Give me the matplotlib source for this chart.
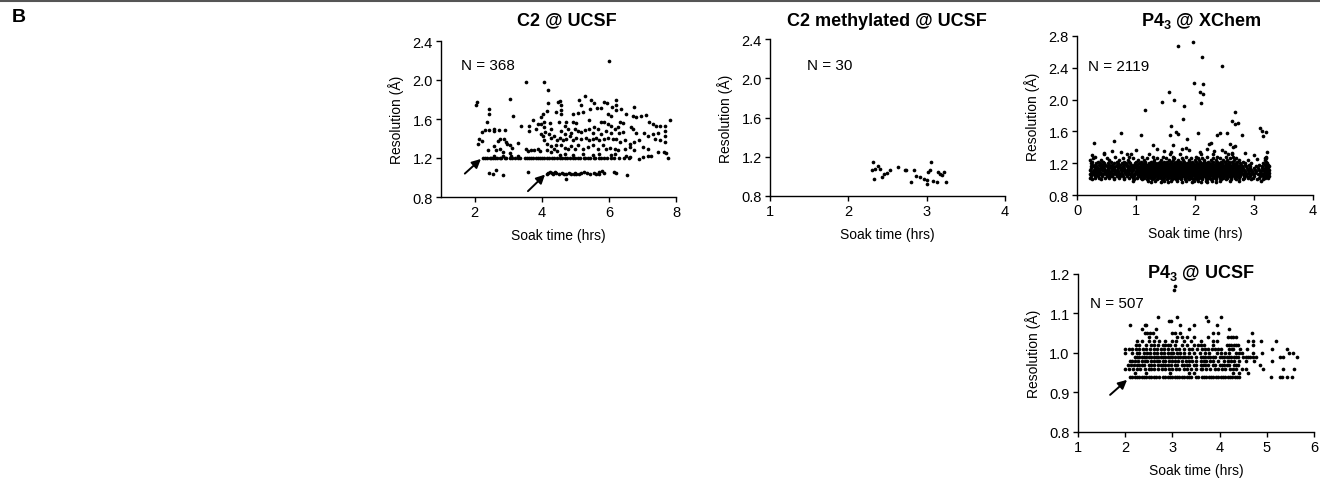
import matplotlib
matplotlib.use("Agg")
import matplotlib.pyplot as plt
from matplotlib.lines import Line2D

plt.rcParams['font.family'] = ['Liberation Sans', 'DejaVu Sans']
plt.rcParams['mathtext.fontset'] = 'custom'
plt.rcParams['mathtext.rm'] = 'Liberation Sans'
plt.rcParams['mathtext.bf'] = 'Liberation Sans:bold'

# ---- C2 @ UCSF (soak time hrs, resolution A) ----
c2_row_120 = [2.25, 2.32, 2.38, 2.45, 2.5, 2.56, 2.62, 2.68, 2.75, 2.8, 2.9, 2.95, 3.05, 3.1, 3.2,
              3.28, 3.35, 3.5, 3.55, 3.62, 3.68, 3.75, 3.82, 3.88, 3.95, 4.0, 4.08, 4.15, 4.22, 4.3,
              4.38, 4.45, 4.55, 4.6, 4.68, 4.75, 4.85, 4.92, 5.0, 5.08, 5.15, 5.25, 5.3, 5.38, 5.45,
              5.55, 5.6, 5.7, 5.78, 5.85, 5.95, 6.05, 6.15, 6.3, 6.45, 6.6]
c2_pts = [(3.53, 1.98), (4.08, 1.98), (4.19, 1.90), (3.05, 1.81), (2.07, 1.77), (2.04, 1.74),
          (4.19, 1.76), (4.49, 1.77), (2.44, 1.70), (2.42, 1.65), (3.15, 1.63), (4.03, 1.65),
          (3.98, 1.62), (4.17, 1.68), (4.42, 1.67), (2.37, 1.57), (3.73, 1.59), (3.88, 1.55),
          (3.98, 1.55), (4.08, 1.57), (4.24, 1.56), (4.52, 1.57), (3.38, 1.53), (3.63, 1.53),
          (3.63, 1.48), (3.83, 1.50), (4.08, 1.52), (4.10, 1.47), (4.27, 1.50), (2.31, 1.49),
          (2.21, 1.47), (2.44, 1.49), (2.57, 1.48), (2.59, 1.50), (2.74, 1.49), (2.91, 1.49),
          (3.98, 1.45), (4.03, 1.43), (4.22, 1.45), (4.27, 1.41), (4.37, 1.43), (4.47, 1.38),
          (4.42, 1.33), (2.77, 1.40), (2.71, 1.37), (2.14, 1.39), (2.21, 1.37), (2.09, 1.34),
          (2.88, 1.39), (2.93, 1.36), (2.98, 1.34), (3.06, 1.33), (3.10, 1.30), (3.28, 1.35),
          (4.08, 1.38), (4.15, 1.34), (4.27, 1.32), (2.39, 1.28), (2.59, 1.32), (2.64, 1.28),
          (2.77, 1.29), (2.84, 1.26), (3.06, 1.25), (3.53, 1.29), (3.58, 1.27), (3.68, 1.28),
          (3.78, 1.28), (3.88, 1.29), (3.96, 1.27), (4.17, 1.28), (4.27, 1.26), (4.37, 1.29),
          (4.45, 1.27), (2.57, 1.22), (2.84, 1.22), (3.08, 1.22), (3.30, 1.22), (2.44, 1.05),
          (2.54, 1.04), (2.64, 1.08), (2.84, 1.03), (3.58, 1.06), (4.73, 0.98),
          (6.00, 2.20), (5.30, 1.84), (5.10, 1.80), (5.47, 1.79), (5.55, 1.76), (5.87, 1.77),
          (5.95, 1.76), (6.22, 1.79), (6.20, 1.74), (5.65, 1.71), (5.77, 1.71), (6.10, 1.72),
          (6.22, 1.69), (6.35, 1.70), (6.76, 1.72), (4.53, 1.78), (4.58, 1.74), (4.58, 1.69),
          (4.58, 1.65), (5.18, 1.74), (5.23, 1.67), (5.08, 1.66), (4.93, 1.65), (5.45, 1.70),
          (5.97, 1.65), (6.07, 1.63), (6.52, 1.65), (6.72, 1.63), (6.81, 1.62), (6.96, 1.63),
          (7.11, 1.64), (5.40, 1.59), (4.93, 1.57), (5.03, 1.56), (4.73, 1.57), (4.68, 1.53),
          (5.77, 1.57), (5.87, 1.57), (5.97, 1.55), (6.07, 1.53), (6.32, 1.57), (6.42, 1.56),
          (6.27, 1.52), (7.21, 1.57), (7.31, 1.55), (7.41, 1.53), (7.51, 1.53), (7.66, 1.53),
          (7.81, 1.59), (4.58, 1.48), (4.68, 1.45), (4.78, 1.50), (4.88, 1.46), (4.98, 1.50),
          (5.08, 1.48), (5.18, 1.47), (5.28, 1.49), (5.42, 1.50), (5.52, 1.46), (5.57, 1.52),
          (5.67, 1.50), (5.77, 1.45), (5.92, 1.48), (6.07, 1.46), (6.17, 1.50), (6.30, 1.46),
          (6.42, 1.47), (6.66, 1.52), (6.71, 1.50), (6.81, 1.46), (7.06, 1.46), (7.16, 1.43),
          (7.31, 1.45), (7.46, 1.46), (7.66, 1.48), (7.68, 1.43), (4.53, 1.41), (4.63, 1.38),
          (4.73, 1.40), (4.83, 1.43), (4.93, 1.38), (5.03, 1.41), (5.18, 1.40), (5.33, 1.41),
          (5.42, 1.38), (5.52, 1.39), (5.62, 1.41), (5.72, 1.38), (5.87, 1.40), (5.97, 1.41),
          (6.12, 1.39), (6.22, 1.40), (6.32, 1.36), (6.47, 1.38), (6.62, 1.34), (6.76, 1.36),
          (6.91, 1.38), (7.36, 1.40), (7.51, 1.38), (7.66, 1.36), (4.58, 1.33), (4.68, 1.30),
          (4.78, 1.29), (4.88, 1.32), (4.98, 1.29), (5.08, 1.33), (5.23, 1.29), (5.38, 1.31),
          (5.52, 1.33), (5.67, 1.29), (5.82, 1.33), (5.92, 1.29), (6.02, 1.30), (6.17, 1.29),
          (6.27, 1.28), (6.47, 1.29), (6.62, 1.31), (6.76, 1.28), (7.01, 1.31), (7.16, 1.29),
          (7.46, 1.26), (4.53, 1.23), (4.68, 1.24), (4.93, 1.23), (5.23, 1.24), (5.52, 1.23),
          (5.72, 1.24), (6.07, 1.23), (6.17, 1.24), (6.52, 1.22), (6.62, 1.21), (6.91, 1.19),
          (7.01, 1.21), (7.16, 1.22), (7.26, 1.22), (7.71, 1.25), (7.76, 1.20), (7.64, 1.26),
          (4.15, 1.04), (4.20, 1.05), (4.25, 1.06), (4.30, 1.05), (4.35, 1.04), (4.42, 1.05),
          (4.50, 1.04), (4.60, 1.05), (4.65, 1.04), (4.72, 1.04), (4.80, 1.05), (4.88, 1.04),
          (4.95, 1.04), (5.02, 1.04), (5.10, 1.04), (5.18, 1.05), (5.25, 1.06), (5.35, 1.05),
          (5.45, 1.04), (5.55, 1.05), (5.62, 1.04), (5.72, 1.06), (5.80, 1.07), (5.85, 1.05),
          (6.15, 1.06), (6.20, 1.05), (6.55, 1.03), (5.00, 1.05), (4.40, 1.06), (5.70, 1.04)]

# ---- C2 methylated @ UCSF ----
c2m_soak = [2.31, 2.30, 2.34, 2.38, 2.40, 2.33, 2.43, 2.45, 2.49, 2.53, 2.63, 2.72, 2.74, 2.80, 2.84,
            2.87, 2.91, 2.96, 3.00, 3.01, 3.02, 3.04, 3.06, 3.08, 3.13, 3.14, 3.17, 3.19, 3.22, 3.25]
c2m_res = [1.15, 1.07, 1.08, 1.11, 1.08, 0.97, 0.99, 1.02, 1.03, 1.07, 1.10, 1.07, 1.06, 0.94, 1.06,
           1.00, 0.99, 0.97, 0.96, 0.92, 1.04, 1.07, 1.15, 0.95, 0.94, 1.04, 1.02, 1.01, 1.04, 0.94]

# ---- P4_3 @ XChem: dense band listed by resolution level, then sparse points ----
xchem_rows = {
    0.96: [1.25, 1.42, 1.55, 1.78, 1.95, 2.1, 2.2, 2.35],
    0.98: [0.95, 1.2, 1.32, 1.48, 1.6, 1.7, 1.85, 1.98, 2.05, 2.18, 2.28, 2.42, 2.6, 2.75, 3.12],
    1.00: [0.25, 0.4, 0.62, 0.8, 0.97, 1.1, 1.18, 1.27, 1.36, 1.44, 1.52, 1.61, 1.68, 1.76, 1.83,
           1.9, 1.97, 2.04, 2.12, 2.2, 2.27, 2.35, 2.44, 2.52, 2.61, 2.7, 2.82, 2.95, 3.05, 3.15],
    1.02: [0.22, 0.3, 0.38, 0.47, 0.55, 0.63, 0.72, 0.8, 0.88, 0.95, 1.02, 1.08, 1.14, 1.2, 1.26,
           1.31, 1.37, 1.43, 1.48, 1.54, 1.6, 1.65, 1.71, 1.77, 1.83, 1.88, 1.94, 2.0, 2.06, 2.12,
           2.18, 2.24, 2.3, 2.36, 2.42, 2.48, 2.55, 2.61, 2.68, 2.75, 2.83, 2.9, 2.98, 3.08, 3.18, 3.24],
    1.04: [0.24, 0.31, 0.36, 0.43, 0.5, 0.56, 0.6, 0.67, 0.73, 0.78, 0.84, 0.91, 0.97, 1.03, 1.07,
           1.12, 1.17, 1.22, 1.27, 1.32, 1.36, 1.41, 1.45, 1.5, 1.55, 1.59, 1.64, 1.68, 1.73, 1.78,
           1.82, 1.86, 1.91, 1.95, 2.0, 2.04, 2.09, 2.13, 2.17, 2.22, 2.26, 2.31, 2.35, 2.4, 2.44,
           2.49, 2.53, 2.58, 2.63, 2.67, 2.72, 2.77, 2.83, 2.88, 2.94, 3.0, 3.1, 3.16, 3.21, 3.25],
    1.06: [0.22, 0.27, 0.33, 0.39, 0.44, 0.49, 0.55, 0.61, 0.66, 0.71, 0.77, 0.83, 0.88, 0.93, 0.99,
           1.04, 1.09, 1.13, 1.18, 1.23, 1.28, 1.33, 1.37, 1.42, 1.46, 1.51, 1.56, 1.61, 1.65, 1.7,
           1.75, 1.79, 1.84, 1.88, 1.93, 1.97, 2.02, 2.06, 2.11, 2.15, 2.2, 2.24, 2.29, 2.33, 2.38,
           2.42, 2.47, 2.51, 2.56, 2.61, 2.66, 2.71, 2.76, 2.81, 2.87, 2.93, 2.99, 3.07, 3.14, 3.19, 3.24],
    1.08: [0.25, 0.3, 0.35, 0.41, 0.47, 0.52, 0.58, 0.64, 0.69, 0.75, 0.81, 0.86, 0.92, 0.98, 1.03,
           1.08, 1.12, 1.16, 1.21, 1.26, 1.3, 1.35, 1.39, 1.44, 1.48, 1.53, 1.57, 1.62, 1.67, 1.71,
           1.76, 1.81, 1.85, 1.9, 1.94, 1.99, 2.03, 2.08, 2.12, 2.17, 2.21, 2.26, 2.3, 2.35, 2.39,
           2.44, 2.48, 2.53, 2.57, 2.62, 2.68, 2.73, 2.78, 2.84, 2.9, 2.96, 3.02, 3.11, 3.17, 3.22, 3.26],
    1.10: [0.23, 0.29, 0.34, 0.38, 0.45, 0.5, 0.54, 0.6, 0.65, 0.7, 0.76, 0.82, 0.87, 0.94, 1.0,
           1.05, 1.1, 1.14, 1.19, 1.24, 1.29, 1.34, 1.38, 1.43, 1.47, 1.52, 1.58, 1.63, 1.66, 1.72,
           1.77, 1.8, 1.86, 1.89, 1.95, 1.98, 2.03, 2.07, 2.12, 2.16, 2.21, 2.25, 2.3, 2.34, 2.38,
           2.43, 2.47, 2.52, 2.56, 2.6, 2.65, 2.7, 2.74, 2.79, 2.85, 2.91, 2.97, 3.04, 3.12, 3.18, 3.23],
    1.12: [0.22, 0.28, 0.32, 0.37, 0.42, 0.48, 0.53, 0.59, 0.63, 0.68, 0.74, 0.8, 0.85, 0.9, 0.95,
           1.01, 1.06, 1.11, 1.15, 1.2, 1.25, 1.3, 1.35, 1.4, 1.44, 1.49, 1.54, 1.59, 1.63, 1.68,
           1.73, 1.78, 1.83, 1.87, 1.92, 1.96, 2.01, 2.06, 2.1, 2.15, 2.19, 2.24, 2.28, 2.33, 2.37,
           2.42, 2.46, 2.51, 2.55, 2.6, 2.64, 2.69, 2.73, 2.78, 2.83, 2.89, 2.95, 3.01, 3.09, 3.15, 3.2, 3.25],
    1.14: [0.24, 0.3, 0.36, 0.41, 0.46, 0.52, 0.57, 0.63, 0.7, 0.75, 0.8, 0.86, 0.92, 0.97, 1.02,
           1.07, 1.12, 1.17, 1.22, 1.27, 1.31, 1.36, 1.41, 1.45, 1.5, 1.55, 1.6, 1.64, 1.69, 1.74,
           1.79, 1.84, 1.88, 1.93, 1.98, 2.02, 2.07, 2.11, 2.16, 2.2, 2.25, 2.29, 2.34, 2.39, 2.44,
           2.49, 2.54, 2.58, 2.63, 2.67, 2.72, 2.77, 2.82, 2.88, 2.94, 3.0, 3.06, 3.14, 3.19, 3.24],
    1.16: [0.23, 0.27, 0.33, 0.4, 0.44, 0.5, 0.56, 0.61, 0.66, 0.72, 0.78, 0.84, 0.89, 0.94, 1.0,
           1.04, 1.09, 1.14, 1.19, 1.23, 1.28, 1.33, 1.37, 1.42, 1.47, 1.52, 1.56, 1.61, 1.66, 1.7,
           1.75, 1.8, 1.85, 1.9, 1.94, 1.99, 2.04, 2.08, 2.13, 2.18, 2.22, 2.27, 2.31, 2.36, 2.4,
           2.45, 2.5, 2.55, 2.59, 2.64, 2.69, 2.74, 2.8, 2.86, 2.93, 3.03, 3.13, 3.2, 3.25],
    1.18: [0.25, 0.31, 0.37, 0.43, 0.48, 0.55, 0.6, 0.67, 0.73, 0.79, 0.85, 0.91, 0.96, 1.02, 1.08,
           1.13, 1.18, 1.24, 1.29, 1.34, 1.39, 1.43, 1.48, 1.53, 1.58, 1.62, 1.67, 1.72, 1.77, 1.82,
           1.86, 1.91, 1.96, 2.0, 2.05, 2.1, 2.14, 2.19, 2.24, 2.29, 2.33, 2.38, 2.43, 2.48, 2.53,
           2.57, 2.62, 2.67, 2.72, 2.78, 2.84, 2.92, 3.08, 3.18, 3.23],
    1.20: [0.24, 0.32, 0.39, 0.46, 0.53, 0.62, 0.7, 0.77, 0.83, 0.9, 0.98, 1.05, 1.11, 1.16, 1.22,
           1.27, 1.32, 1.38, 1.44, 1.5, 1.55, 1.6, 1.65, 1.71, 1.76, 1.81, 1.87, 1.92, 1.97, 2.03,
           2.08, 2.13, 2.18, 2.24, 2.29, 2.35, 2.41, 2.46, 2.52, 2.58, 2.64, 2.7, 2.77, 2.85, 2.95, 3.15, 3.22],
    1.22: [0.26, 0.35, 0.44, 0.58, 0.68, 0.8, 0.88, 1.0, 1.09, 1.15, 1.25, 1.31, 1.4, 1.47, 1.53,
           1.6, 1.68, 1.74, 1.82, 1.89, 1.95, 2.02, 2.09, 2.16, 2.22, 2.3, 2.37, 2.44, 2.5, 2.57,
           2.63, 2.72, 2.82, 3.2],
    1.24: [0.22, 0.4, 0.55, 0.72, 0.86, 1.04, 1.13, 1.3, 1.42, 1.56, 1.63, 1.72, 1.8, 1.9, 2.0,
           2.07, 2.15, 2.27, 2.35, 2.48, 2.55, 2.66, 2.75, 2.9, 3.18],
    1.26: [0.27, 0.5, 0.78, 0.95, 1.18, 1.35, 1.5, 1.65, 1.78, 1.93, 2.05, 2.12, 2.3, 2.42, 2.6, 2.7, 3.21],
    1.28: [0.3, 0.65, 0.88, 1.1, 1.28, 1.45, 1.62, 1.85, 2.02, 2.2, 2.38, 2.52, 2.64, 3.2],
    1.31: [0.45, 0.92, 1.22, 1.58, 1.74, 2.1, 2.3, 2.56, 2.62],
    1.34: [0.75, 1.6, 2.08, 2.5],
}
xchem_pts = [(0.29, 1.46), (0.62, 1.48), (0.75, 1.58), (1.08, 1.56), (1.16, 1.87), (1.29, 1.43),
             (1.44, 1.97), (1.57, 1.55), (1.60, 1.67), (1.56, 2.09), (1.64, 1.99), (1.68, 1.59),
             (1.71, 1.57), (1.71, 2.68), (1.80, 1.76), (1.81, 1.92), (1.62, 1.43), (1.78, 1.38),
             (1.84, 1.39), (1.86, 1.50), (1.96, 2.72), (1.98, 2.21), (2.05, 1.58), (2.08, 2.10),
             (2.10, 1.96), (2.12, 2.53), (2.14, 2.20), (2.14, 2.07), (2.23, 1.44), (2.27, 1.45),
             (2.37, 1.55), (2.42, 1.58), (2.46, 2.42), (2.54, 1.58), (2.59, 1.44), (2.65, 1.40),
             (2.68, 1.42), (2.68, 1.84), (2.63, 1.73), (2.68, 1.69), (2.73, 1.71), (2.79, 1.56),
             (3.10, 1.64), (3.13, 1.60), (3.20, 1.59), (3.16, 1.54), (3.22, 1.34), (3.19, 1.27),
             (0.26, 1.30), (0.45, 1.33), (0.60, 1.35), (0.85, 1.32), (1.00, 1.36), (1.35, 1.38),
             (1.48, 1.35), (1.90, 1.36), (2.20, 1.38), (2.32, 1.35), (2.45, 1.37), (2.62, 1.33),
             (2.85, 1.33), (3.00, 1.30), (3.05, 1.25)]

# ---- P4_3 @ UCSF: resolutions come in 0.01 A steps ----
p43u_rows = {
    0.94: [2.1, 2.15, 2.2, 2.25, 2.3, 2.35, 2.4, 2.45, 2.5, 2.55, 2.6, 2.65, 2.72, 2.8, 2.85, 2.9,
           2.95, 3.0, 3.05, 3.1, 3.15, 3.2, 3.25, 3.3, 3.35, 3.4, 3.5, 3.55, 3.62, 3.67, 3.72, 3.77,
           3.82, 3.87, 3.92, 3.97, 4.02, 4.07, 4.12, 4.17, 4.22, 4.27, 4.32, 4.37, 4.42, 5.08, 5.27,
           5.33, 5.42, 5.53],
    0.95: [2.2, 2.45, 2.95, 3.35, 3.45, 4.29, 4.42, 4.6],
    0.96: [2.0, 2.07, 2.17, 2.25, 2.32, 2.42, 2.5, 2.55, 2.62, 2.7, 2.77, 2.85, 2.92, 3.0, 3.07, 3.15,
           3.25, 3.3, 3.4, 3.5, 3.6, 3.62, 3.72, 3.8, 3.9, 3.97, 4.05, 4.12, 4.22, 4.29, 4.35, 4.47,
           4.55, 4.92, 5.35, 5.58],
    0.97: [2.05, 2.12, 2.18, 2.25, 2.3, 2.35, 2.4, 2.5, 2.55, 2.6, 2.7, 2.75, 2.8, 2.85, 2.9, 2.97,
           3.05, 3.1, 3.2, 3.25, 3.3, 3.35, 3.45, 3.5, 3.6, 3.65, 3.7, 3.75, 3.85, 3.9, 4.0, 4.05,
           4.1, 4.15, 4.2, 4.3, 4.35, 4.4, 4.85],
    0.98: [2.1, 2.15, 2.2, 2.28, 2.35, 2.42, 2.47, 2.55, 2.6, 2.67, 2.72, 2.8, 2.85, 2.92, 3.0, 3.05,
           3.12, 3.2, 3.28, 3.35, 3.42, 3.5, 3.6, 3.67, 3.72, 3.8, 3.87, 3.97, 4.1, 4.17, 4.25, 4.3,
           4.42, 4.55, 4.73, 5.1],
    0.99: [2.2, 2.25, 2.3, 2.35, 2.4, 2.45, 2.5, 2.55, 2.6, 2.65, 2.7, 2.75, 2.8, 2.85, 2.9, 2.95,
           3.0, 3.05, 3.12, 3.17, 3.22, 3.27, 3.32, 3.4, 3.5, 3.6, 3.65, 3.7, 3.75, 3.8, 3.85, 3.9,
           4.0, 4.05, 4.1, 4.15, 4.2, 4.25, 4.3, 4.35, 4.4, 4.5, 4.55, 4.6, 4.65, 4.7, 4.78, 5.28,
           5.34, 5.63],
    1.00: [2.0, 2.15, 2.25, 2.3, 2.4, 2.47, 2.52, 2.6, 2.67, 2.75, 2.82, 2.9, 2.97, 3.02, 3.1, 3.17,
           3.25, 3.35, 3.45, 3.59, 3.69, 3.78, 3.94, 4.02, 4.11, 4.19, 4.35, 4.42, 4.47, 4.71, 4.9,
           5.46, 5.55],
    1.01: [2.0, 2.08, 2.15, 2.22, 2.3, 2.37, 2.45, 2.52, 2.6, 2.68, 2.75, 2.82, 2.9, 3.0, 3.07, 3.15,
           3.25, 3.35, 3.42, 3.52, 3.62, 3.69, 3.76, 3.83, 3.9, 3.97, 4.04, 4.19, 4.26, 4.29, 4.43,
           4.57, 5.12, 5.42],
    1.02: [2.22, 2.3, 2.45, 2.55, 2.62, 2.7, 2.8, 2.85, 2.9, 2.95, 3.05, 3.2, 3.3, 3.45, 3.55, 3.6,
           3.67, 3.85, 4.15, 4.2, 4.25, 4.3, 4.35, 4.4, 4.7],
    1.03: [2.25, 2.35, 2.5, 2.62, 2.72, 2.85, 3.0, 3.08, 3.25, 3.4, 3.6, 3.87, 3.94, 4.61, 4.71, 4.88, 5.19],
    1.04: [2.5, 2.65, 3.1, 3.2, 3.3, 3.45, 3.75, 4.17, 4.24, 4.29, 4.35],
    1.05: [2.42, 2.47, 2.52, 2.58, 3.0, 3.05, 3.17, 3.87, 3.97, 4.68],
    1.06: [2.35, 2.65, 3.35, 4.19],
    1.07: [2.1, 2.41, 2.45, 3.16, 3.45, 3.95],
    1.08: [2.92, 2.97, 3.76],
    1.09: [2.69, 3.09, 3.71, 4.02],
    1.16: [3.04],
    1.17: [3.06],
}


def rows_to_xy(rows):
    xs, ys = [], []
    for res, soaks in rows.items():
        xs += soaks
        ys += [res] * len(soaks)
    return xs, ys


def style_axis(ax, xlim, xticks, ylim, yticks, yfmt):
    for side in ["top", "right"]:
        ax.spines[side].set_visible(False)
    ax.spines["left"].set_linewidth(1.0)
    ax.spines["bottom"].set_linewidth(1.0)
    ax.set_xlim(xlim)
    ax.set_ylim(ylim)
    ax.set_xticks(xticks)
    ax.set_yticks(yticks)
    ax.set_yticklabels([yfmt % t for t in yticks])
    ax.tick_params(direction="out", length=3.5, width=1.0, pad=2.5, labelsize=10.5)
    ax.set_xlabel("Soak time (hrs)", fontsize=10, labelpad=6)
    ax.set_ylabel("Resolution (Å)", fontsize=10, labelpad=6)


W, H = 1320, 481
fig = plt.figure(figsize=(13.2, 4.81), dpi=100)

def add_ax(left, top, right, bottom):
    return fig.add_axes([left / W, 1 - bottom / H, (right - left) / W, (bottom - top) / H])

dot = dict(s=7, color="black", linewidths=0, clip_on=False)
arrow = dict(arrowstyle="-|>", color="black", lw=1.4, mutation_scale=13, shrinkA=0, shrinkB=0)

# C2 @ UCSF
ax1 = add_ax(441, 42, 676, 198)
ax1.scatter(c2_row_120, [1.20] * len(c2_row_120), **dot)
ax1.scatter([p[0] for p in c2_pts], [p[1] for p in c2_pts], **dot)
style_axis(ax1, (1, 8), [2, 4, 6, 8], (0.8, 2.4), [0.8, 1.2, 1.6, 2.0, 2.4], "%.1f")
ax1.text(1.6, 2.15, "N = 368", fontsize=11, va="center")
ax1.annotate("", xy=(2.19, 1.19), xytext=(1.71, 1.04), arrowprops=arrow)
ax1.annotate("", xy=(4.1, 1.03), xytext=(3.59, 0.86), arrowprops=arrow)

# C2 methylated @ UCSF
ax2 = add_ax(770, 40, 1005, 197)
ax2.scatter(c2m_soak, c2m_res, **dot)
style_axis(ax2, (1, 4), [1, 2, 3, 4], (0.8, 2.4), [0.8, 1.2, 1.6, 2.0, 2.4], "%.1f")
ax2.text(1.47, 2.13, "N = 30", fontsize=11, va="center")

# P4_3 @ XChem
ax3 = add_ax(1077, 37, 1313, 196)
xs, ys = rows_to_xy(xchem_rows)
ax3.scatter(xs, ys, **dot)
ax3.scatter([p[0] for p in xchem_pts], [p[1] for p in xchem_pts], **dot)
style_axis(ax3, (0, 4), [0, 1, 2, 3, 4], (0.8, 2.8), [0.8, 1.2, 1.6, 2.0, 2.4, 2.8], "%.1f")
ax3.text(0.19, 2.42, "N = 2119", fontsize=11, va="center")

# P4_3 @ UCSF
ax4 = add_ax(1078, 275, 1314, 433)
xs, ys = rows_to_xy(p43u_rows)
ax4.scatter(xs, ys, **dot)
style_axis(ax4, (1, 6), [1, 2, 3, 4, 5, 6], (0.8, 1.2), [0.8, 0.9, 1.0, 1.1, 1.2], "%.1f")
ax4.text(1.25, 1.127, "N = 507", fontsize=11, va="center")
ax4.annotate("", xy=(2.04, 0.932), xytext=(1.68, 0.894), arrowprops=arrow)

# titles
title_kw = dict(fontsize=13, fontweight="bold", ha="center", va="center")
fig.text(567 / W, 1 - 21 / H, "C2 @ UCSF", **title_kw)
fig.text(887 / W, 1 - 21 / H, "C2 methylated @ UCSF", **title_kw)
fig.text(1201 / W, 1 - 21 / H, r"P4$_\mathbf{3}$ @ XChem", **title_kw)
fig.text(1201 / W, 1 - 273 / H, r"P4$_\mathbf{3}$ @ UCSF", **title_kw)

fig.text(12 / W, 1 - 9 / H, "B", fontsize=14, fontweight="bold", va="top", ha="left")
fig.add_artist(Line2D([0, 1], [1 - 2 / H, 1 - 2 / H], color="#555555", lw=1.5))

fig.savefig("out.png", dpi=100)
